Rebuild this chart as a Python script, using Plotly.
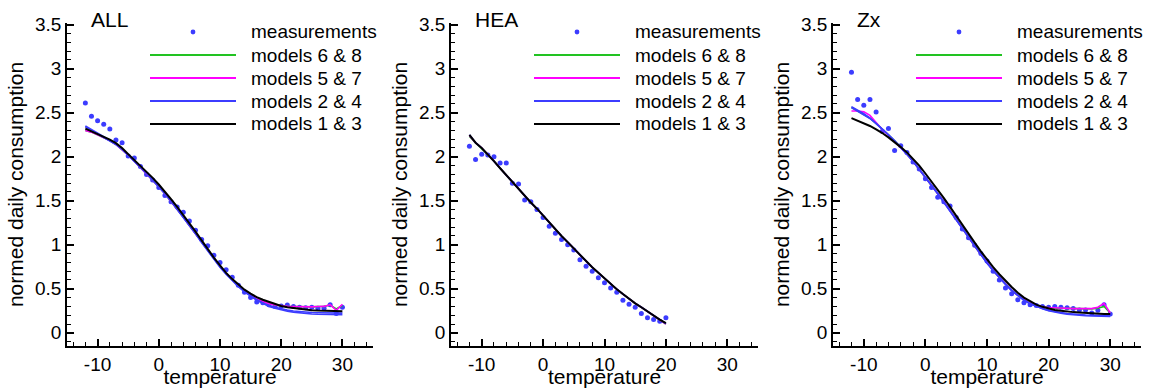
import plotly.graph_objects as go

# ---------------- data ----------------
T_FULL = [-12, -11, -10, -9, -8, -7, -6, -5, -4, -3, -2, -1, 0, 1, 2, 3, 4, 5, 6, 7, 8,
          9, 10, 11, 12, 13, 14, 15, 16, 17, 18, 19, 20, 21, 22, 23, 24, 25, 26, 27, 28, 29, 30]
T_HEA = [-12, -11, -10, -9, -8, -7, -6, -5, -4, -3, -2, -1, 0, 1, 2, 3, 4, 5, 6, 7, 8,
         9, 10, 11, 12, 13, 14, 15, 16, 17, 18, 19, 20]

# ALL
meas_all = [2.61, 2.46, 2.41, 2.37, 2.315, 2.19, 2.16, 2.01, 1.985, 1.89, 1.80, 1.735, 1.65,
            1.56, 1.49, 1.43, 1.37, 1.27, 1.165, 1.06, 0.99, 0.88, 0.80, 0.715, 0.63, 0.54,
            0.46, 0.40, 0.35, 0.34, 0.32, 0.30, 0.305, 0.315, 0.30, 0.29, 0.285, 0.29, 0.28,
            0.28, 0.32, 0.22, 0.29]
m68_all = [2.30, 2.28, 2.25, 2.22, 2.185, 2.14, 2.085, 2.02, 1.95, 1.88, 1.81, 1.735, 1.66,
           1.58, 1.495, 1.405, 1.315, 1.22, 1.125, 1.03, 0.935, 0.84, 0.755, 0.675, 0.60,
           0.535, 0.48, 0.43, 0.385, 0.355, 0.33, 0.315, 0.305, 0.30, 0.298, 0.295, 0.295,
           0.295, 0.298, 0.30, 0.315, 0.27, 0.31]
m57_all = [2.30, 2.28, 2.25, 2.22, 2.185, 2.14, 2.085, 2.02, 1.95, 1.88, 1.81, 1.735, 1.66,
           1.58, 1.495, 1.405, 1.315, 1.22, 1.125, 1.03, 0.935, 0.84, 0.755, 0.675, 0.60,
           0.535, 0.48, 0.43, 0.385, 0.355, 0.33, 0.315, 0.305, 0.30, 0.298, 0.295, 0.295,
           0.295, 0.298, 0.30, 0.32, 0.255, 0.325]
m2_all = [2.35, 2.31, 2.27, 2.23, 2.19, 2.145, 2.09, 2.025, 1.955, 1.885, 1.815, 1.74, 1.665,
          1.585, 1.50, 1.41, 1.32, 1.225, 1.13, 1.03, 0.935, 0.84, 0.75, 0.67, 0.595, 0.53,
          0.47, 0.42, 0.375, 0.34, 0.31, 0.29, 0.27, 0.258, 0.248, 0.24, 0.235, 0.23, 0.228,
          0.226, 0.225, 0.224, 0.223]
m4_all = [2.34, 2.30, 2.265, 2.225, 2.185, 2.14, 2.085, 2.02, 1.95, 1.88, 1.81, 1.735, 1.66,
          1.58, 1.495, 1.405, 1.315, 1.22, 1.125, 1.025, 0.93, 0.835, 0.745, 0.665, 0.59,
          0.525, 0.465, 0.415, 0.37, 0.335, 0.30, 0.28, 0.26, 0.245, 0.235, 0.225, 0.218,
          0.213, 0.21, 0.208, 0.206, 0.205, 0.205]
m13_all = [2.32, 2.29, 2.26, 2.23, 2.195, 2.155, 2.10, 2.03, 1.965, 1.90, 1.835, 1.76, 1.685,
           1.605, 1.52, 1.43, 1.34, 1.245, 1.15, 1.05, 0.95, 0.855, 0.765, 0.68, 0.61,
           0.545, 0.49, 0.445, 0.405, 0.375, 0.35, 0.325, 0.305, 0.29, 0.28, 0.27, 0.262,
           0.256, 0.252, 0.25, 0.247, 0.246, 0.245]

# HEA
meas_hea = [2.12, 1.97, 2.03, 2.02, 2.00, 1.93, 1.93, 1.70, 1.69, 1.51, 1.49, 1.40, 1.31,
            1.21, 1.13, 1.06, 1.00, 0.94, 0.83, 0.755, 0.70, 0.625, 0.57, 0.51, 0.46, 0.37,
            0.325, 0.29, 0.22, 0.17, 0.15, 0.13, 0.17]
m68_hea = [2.23, 2.16, 2.10, 2.03, 1.95, 1.87, 1.79, 1.71, 1.64, 1.56, 1.48, 1.41, 1.33,
           1.25, 1.18, 1.10, 1.03, 0.955, 0.885, 0.815, 0.745, 0.68, 0.615, 0.555, 0.495,
           0.44, 0.385, 0.335, 0.29, 0.24, 0.195, 0.15, 0.10]
m57_hea = [2.24, 2.16, 2.10, 2.03, 1.95, 1.87, 1.79, 1.71, 1.64, 1.56, 1.48, 1.41, 1.33,
           1.25, 1.18, 1.10, 1.03, 0.955, 0.885, 0.815, 0.745, 0.68, 0.615, 0.555, 0.495,
           0.44, 0.385, 0.335, 0.29, 0.24, 0.195, 0.15, 0.10]
m24_hea = [2.25, 2.16, 2.10, 2.03, 1.95, 1.87, 1.79, 1.71, 1.64, 1.56, 1.48, 1.41, 1.33,
           1.25, 1.18, 1.10, 1.03, 0.955, 0.885, 0.815, 0.745, 0.68, 0.615, 0.555, 0.495,
           0.44, 0.385, 0.335, 0.29, 0.24, 0.195, 0.15, 0.105]
m13_hea = [2.25, 2.16, 2.10, 2.03, 1.95, 1.87, 1.79, 1.71, 1.64, 1.56, 1.48, 1.41, 1.33,
           1.25, 1.18, 1.10, 1.03, 0.955, 0.885, 0.815, 0.745, 0.68, 0.615, 0.555, 0.495,
           0.44, 0.385, 0.335, 0.29, 0.24, 0.195, 0.15, 0.11]

# Zx
meas_zx = [2.96, 2.65, 2.585, 2.65, 2.51, 2.29, 2.32, 2.07, 2.125, 2.05, 1.94, 1.86, 1.75,
           1.65, 1.54, 1.49, 1.44, 1.31, 1.18, 1.08, 0.995, 0.90, 0.815, 0.70, 0.60, 0.51,
           0.445, 0.375, 0.34, 0.32, 0.31, 0.30, 0.29, 0.30, 0.29, 0.285, 0.275, 0.26, 0.26,
           0.225, 0.255, 0.32, 0.215]
m68_zx = [2.56, 2.52, 2.48, 2.44, 2.38, 2.32, 2.25, 2.18, 2.11, 2.03, 1.95, 1.86, 1.77,
          1.68, 1.59, 1.49, 1.39, 1.285, 1.185, 1.085, 0.985, 0.89, 0.795, 0.71, 0.63, 0.555,
          0.485, 0.425, 0.375, 0.335, 0.31, 0.295, 0.285, 0.28, 0.278, 0.276, 0.274, 0.273,
          0.272, 0.272, 0.28, 0.30, 0.225]
m57_zx = [2.52, 2.52, 2.51, 2.47, 2.39, 2.31, 2.245, 2.175, 2.105, 2.03, 1.95, 1.86, 1.77,
          1.68, 1.59, 1.49, 1.39, 1.285, 1.185, 1.085, 0.985, 0.89, 0.795, 0.71, 0.63, 0.555,
          0.485, 0.425, 0.375, 0.335, 0.31, 0.295, 0.285, 0.285, 0.28, 0.28, 0.275, 0.275,
          0.275, 0.275, 0.29, 0.335, 0.225]
m2_zx = [2.57, 2.53, 2.49, 2.44, 2.38, 2.32, 2.25, 2.18, 2.11, 2.03, 1.95, 1.86, 1.76,
         1.67, 1.58, 1.48, 1.38, 1.28, 1.18, 1.08, 0.98, 0.885, 0.79, 0.705, 0.625, 0.55,
         0.48, 0.42, 0.37, 0.33, 0.30, 0.275, 0.255, 0.24, 0.23, 0.22, 0.212, 0.206, 0.202,
         0.20, 0.198, 0.196, 0.195]
m4_zx = [2.56, 2.52, 2.48, 2.435, 2.38, 2.32, 2.25, 2.18, 2.11, 2.03, 1.95, 1.86, 1.765,
         1.675, 1.585, 1.485, 1.385, 1.285, 1.185, 1.085, 0.985, 0.89, 0.795, 0.71, 0.63,
         0.555, 0.485, 0.425, 0.373, 0.332, 0.30, 0.274, 0.252, 0.235, 0.222, 0.212, 0.204,
         0.198, 0.194, 0.191, 0.189, 0.187, 0.186]
m13_zx = [2.44, 2.41, 2.38, 2.35, 2.31, 2.27, 2.22, 2.17, 2.11, 2.05, 1.98, 1.90, 1.81,
          1.72, 1.63, 1.53, 1.43, 1.325, 1.225, 1.125, 1.025, 0.925, 0.83, 0.745, 0.665,
          0.59, 0.52, 0.455, 0.40, 0.36, 0.32, 0.295, 0.275, 0.26, 0.25, 0.24, 0.235, 0.23,
          0.225, 0.22, 0.22, 0.215, 0.215]

PANEL_TITLES = ["ALL", "HEA", "Zx"]
LEGEND_LABELS = ["measurements", "models 6 & 8", "models 5 & 7", "models 2 & 4", "models 1 & 3"]
X_TICKS = [-10, 0, 10, 20, 30]
X_TICKTEXT = ["-10", "0", "10", "20", "30"]
Y_TICKS = [0, 0.5, 1, 1.5, 2, 2.5, 3, 3.5]
Y_TICKTEXT = ["0", "0.5", "1", "1.5", "2", "2.5", "3", "3.5"]

# ---------------- style ----------------
FONT = "Liberation Sans, Arial, sans-serif"
C_MEAS = "#3c3cff"
C_GREEN = "#22c322"
C_MAG = "#ff00ff"
C_BLUE = "#3c3cff"
C_BLACK = "#000000"
TICK_SIZE = 19
LEG_SIZE = 19
TITLE_SIZE = 21
AXT_SIZE = 21

panels = [
    dict(t=T_FULL, meas=meas_all, green=[m68_all], mag=[m57_all], blue=[m2_all, m4_all], black=[m13_all]),
    dict(t=T_HEA, meas=meas_hea, green=[m68_hea], mag=[m57_hea], blue=[m24_hea], black=[m13_hea]),
    dict(t=T_FULL, meas=meas_zx, green=[m68_zx], mag=[m57_zx], blue=[m2_zx, m4_zx], black=[m13_zx]),
]

W, H = 1151, 388
ML, MR, MT, MB = 67, 10, 23, 42
plot_w = W - ML - MR
px_dom = [(67, 373), (451, 758), (833, 1141)]
domains = [[(a - ML) / plot_w, (b - ML) / plot_w] for a, b in px_dom]

fig = go.Figure()
layout = dict(
    width=W, height=H,
    margin=dict(l=ML, r=MR, t=MT, b=MB, pad=0),
    paper_bgcolor="white", plot_bgcolor="white",
    showlegend=False,
    font=dict(family=FONT, size=TICK_SIZE, color="black"),
)
annotations = []
shapes = []

for i, p in enumerate(panels):
    xa = "x" if i == 0 else f"x{i+1}"
    ya = "y" if i == 0 else f"y{i+1}"
    t = p["t"]
    fig.add_trace(go.Scatter(x=t, y=p["meas"], mode="markers", xaxis=xa, yaxis=ya,
                             marker=dict(color=C_MEAS, size=5), name=LEGEND_LABELS[0]))
    for vals in p["green"]:
        fig.add_trace(go.Scatter(x=t, y=vals, mode="lines", xaxis=xa, yaxis=ya,
                                 line=dict(color=C_GREEN, width=1.6), name=LEGEND_LABELS[1]))
    for vals in p["mag"]:
        fig.add_trace(go.Scatter(x=t, y=vals, mode="lines", xaxis=xa, yaxis=ya,
                                 line=dict(color=C_MAG, width=1.6), name=LEGEND_LABELS[2]))
    for vals in p["blue"]:
        fig.add_trace(go.Scatter(x=t, y=vals, mode="lines", xaxis=xa, yaxis=ya,
                                 line=dict(color=C_BLUE, width=1.6), name=LEGEND_LABELS[3]))
    for vals in p["black"]:
        fig.add_trace(go.Scatter(x=t, y=vals, mode="lines", xaxis=xa, yaxis=ya,
                                 line=dict(color=C_BLACK, width=2), name=LEGEND_LABELS[4]))

    axkey = "xaxis" if i == 0 else f"xaxis{i+1}"
    aykey = "yaxis" if i == 0 else f"yaxis{i+1}"
    layout[axkey] = dict(
        domain=domains[i], range=[-15, 35], anchor=ya,
        showline=True, linecolor="black", linewidth=1.8, mirror=False,
        showgrid=False, zeroline=False,
        ticks="inside", ticklen=7, tickwidth=1.5, tickcolor="black",
        tickmode="array", tickvals=X_TICKS, ticktext=X_TICKTEXT,
        tickfont=dict(family=FONT, size=TICK_SIZE, color="black"),
        ticklabelstandoff=0,
        minor=dict(ticks="inside", ticklen=4, tickwidth=1.2, tickcolor="black",
                   dtick=2, tick0=0, showgrid=False),
        title=dict(text="temperature", font=dict(family=FONT, size=AXT_SIZE, color="black"), standoff=1),
        automargin=False,
    )
    layout[aykey] = dict(
        domain=[0, 1], range=[-0.15, 3.52], anchor=xa,
        showline=True, linecolor="black", linewidth=1.8, mirror=False,
        showgrid=False, zeroline=False,
        ticks="inside", ticklen=7, tickwidth=1.5, tickcolor="black",
        tickmode="array", tickvals=Y_TICKS, ticktext=Y_TICKTEXT,
        tickfont=dict(family=FONT, size=TICK_SIZE, color="black"),
        minor=dict(ticks="inside", ticklen=4, tickwidth=1.2, tickcolor="black",
                   dtick=0.1, tick0=0, showgrid=False),
        title=dict(text="normed daily consumption", font=dict(family=FONT, size=AXT_SIZE, color="black"),
                   standoff=6),
        automargin=False,
    )

    xd = f"{xa} domain"
    yd = f"{ya} domain"
    pw = px_dom[i][1] - px_dom[i][0]
    ph = H - MT - MB
    # panel title
    annotations.append(dict(text=PANEL_TITLES[i], xref=xd, yref=yd,
                            x=22 / pw, y=(H - MB - 19) / ph, xanchor="left", yanchor="middle",
                            showarrow=False, font=dict(family=FONT, size=TITLE_SIZE, color="black")))
    # legend
    rows = [32, 55, 78, 101, 124]
    colors = [C_MEAS, C_GREEN, C_MAG, C_BLUE, C_BLACK]
    for k, lab in enumerate(LEGEND_LABELS):
        yy = (H - MB - rows[k]) / ph
        annotations.append(dict(text=lab, xref=xd, yref=yd, x=182 / pw, y=yy,
                                xanchor="left", yanchor="middle", showarrow=False,
                                font=dict(family=FONT, size=LEG_SIZE, color="black")))
        if k == 0:
            r = 2.4
            cx = 126
            shapes.append(dict(type="circle", xref=xd, yref=yd,
                               x0=(cx - r) / pw, x1=(cx + r) / pw,
                               y0=yy - r / ph, y1=yy + r / ph,
                               fillcolor=C_MEAS, line=dict(width=0)))
        else:
            shapes.append(dict(type="line", xref=xd, yref=yd,
                               x0=83 / pw, x1=169 / pw, y0=yy, y1=yy,
                               line=dict(color=colors[k], width=2 if k == 4 else 1.8)))

layout["annotations"] = annotations
layout["shapes"] = shapes
fig.update_layout(**layout)
fig.write_html("out.html")
